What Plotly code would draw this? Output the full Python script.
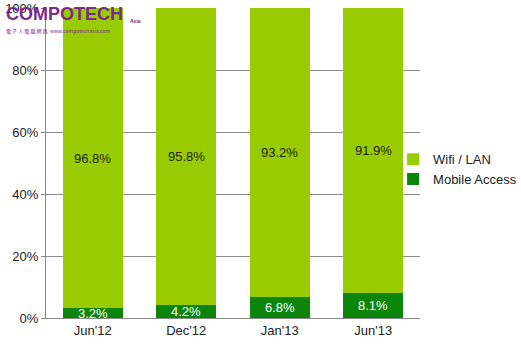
import plotly.graph_objects as go

periods = ["Jun'12", "Dec'12", "Jan'13", "Jun'13"]
mobile = [3.2, 4.2, 6.8, 8.1]
wifi = [96.8, 95.8, 93.2, 91.9]
y_ticks = [0, 20, 40, 60, 80, 100]
y_tick_text = ["0%", "20%", "40%", "60%", "80%", "100%"]

WIFI_COLOR = "#99cc00"
MOBILE_COLOR = "#0b860b"
LOGO_COLOR = "#7a2a8a"
FONT = "Liberation Sans, Arial, sans-serif"

fig = go.Figure()
fig.add_trace(go.Bar(x=periods, y=mobile, name="Mobile Access",
                     marker=dict(color=MOBILE_COLOR, line=dict(width=0))))
fig.add_trace(go.Bar(x=periods, y=wifi, name="Wifi / LAN",
                     marker=dict(color=WIFI_COLOR, line=dict(width=0))))

annotations = []
for p, m, w in zip(periods, mobile, wifi):
    annotations.append(dict(x=p, y=m / 2, text=f"{m:.1f}%", showarrow=False,
                            font=dict(family=FONT, size=13, color="white")))
    annotations.append(dict(x=p, y=m + w / 2, text=f"{w:.1f}%", showarrow=False,
                            font=dict(family=FONT, size=13, color="#222222")))

# publisher logo in the top-left corner
annotations.append(dict(xref="paper", yref="paper", x=-0.112, y=1.02,
                        xanchor="left", yanchor="top", showarrow=False,
                        text="<b>COMPOTECH</b>",
                        font=dict(family=FONT, size=18, color=LOGO_COLOR)))
annotations.append(dict(xref="paper", yref="paper", x=0.218, y=0.957,
                        xanchor="left", yanchor="middle", showarrow=False,
                        text="<b>Asia</b>",
                        font=dict(family=FONT, size=5, color=LOGO_COLOR)))
annotations.append(dict(xref="paper", yref="paper", x=-0.112, y=0.927,
                        xanchor="left", yanchor="middle", showarrow=False,
                        text="電 子 人 電 腦 網 路 &nbsp;www.compotechasia.com",
                        font=dict(family="Noto Sans CJK TC, sans-serif", size=5, color=LOGO_COLOR)))

fig.update_layout(
    barmode="stack",
    bargap=0.36,
    width=521, height=347,
    margin=dict(l=46, r=101, t=8, b=29, autoexpand=False),
    paper_bgcolor="white",
    plot_bgcolor="white",
    font=dict(family=FONT, size=12, color="#222222"),
    showlegend=True,
    legend=dict(x=0.928, y=0.48, xanchor="left", yanchor="middle",
                traceorder="reversed", font=dict(family=FONT, size=13, color="#222222"),
                itemwidth=30, tracegroupgap=4, bgcolor="rgba(0,0,0,0)",
                borderwidth=0),
    annotations=annotations,
    xaxis=dict(showline=True, linecolor="#888888", linewidth=1, ticks="",
               tickfont=dict(family=FONT, size=13, color="#222222")),
    yaxis=dict(range=[0, 100], tickvals=y_ticks, ticktext=y_tick_text,
               showgrid=True, gridcolor="#8c8c8c", gridwidth=1,
               showline=True, linecolor="#888888", linewidth=1,
               zeroline=False, ticks="outside", ticklen=4, tickcolor="#888888",
               tickfont=dict(family=FONT, size=13, color="#222222")),
)

fig.write_html("out.html")
